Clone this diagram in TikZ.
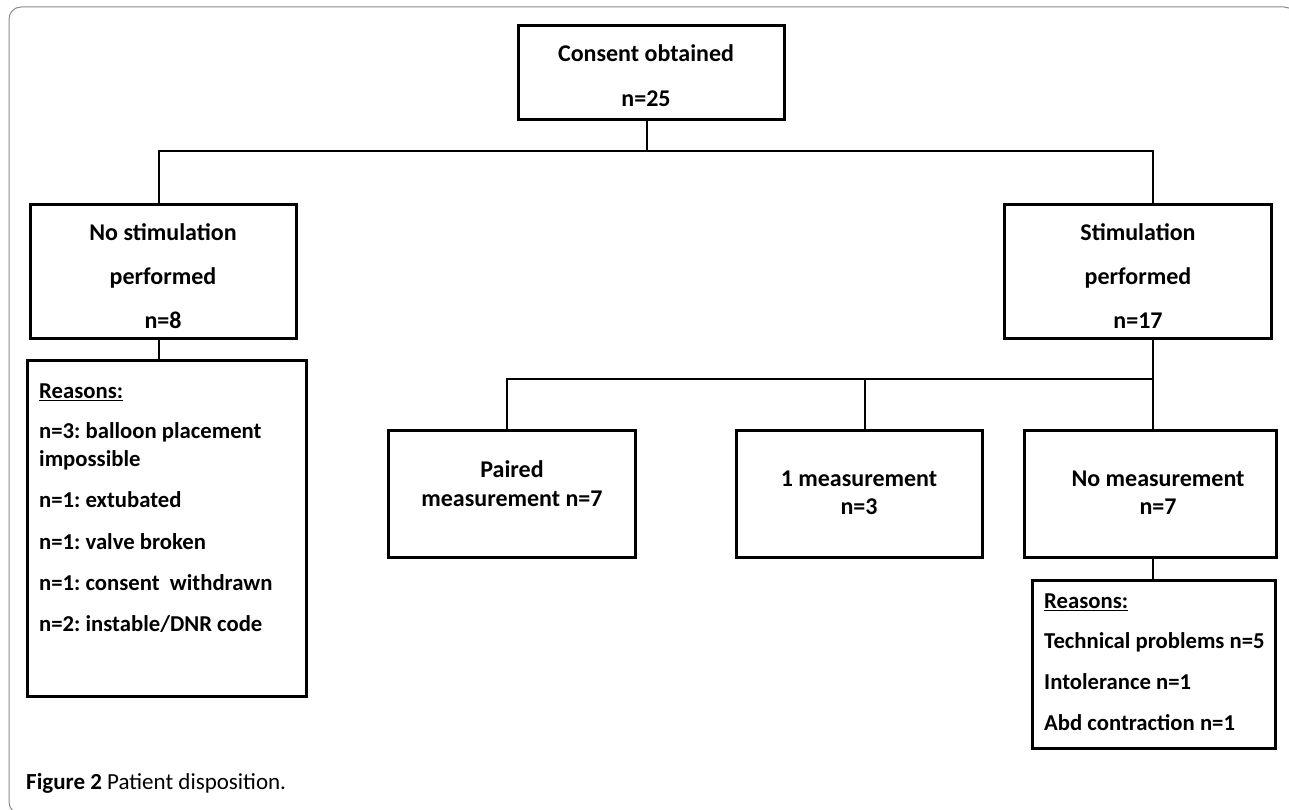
\documentclass[tikz,border=0pt]{standalone}
\usepackage{fontspec}
\setmainfont{Carlito}
\frenchspacing
\tikzset{box/.style={draw, rectangle, line width=3.4pt, inner sep=0pt},
  boxtext/.style={align=center, inner sep=0pt, font=\fontsize{24}{#1}\selectfont\bfseries},
  reasontext/.style={align=left, anchor=north west, inner sep=0pt, font=\fontsize{22.7}{28}\selectfont\bfseries},
  link/.style={line width=2.8pt}}
\begin{document}
\begin{tikzpicture}[x=1pt,y=-1pt]
   \useasboundingbox (0,0) rectangle (1289,810);
   \draw[black!45, line width=1pt, rounded corners=12pt] (9,7) rectangle (1296,814);
   % boxes
   \node[box, minimum width=266pt, minimum height=94pt] (consent) at (651.5,72.5) {};
   \node[box, minimum width=266pt, minimum height=134pt] (nostim) at (163.5,271.5) {};
   \node[box, minimum width=267pt, minimum height=134pt] (stim) at (1138,271.5) {};
   \node[box, minimum width=279pt, minimum height=336pt] (reasons1) at (167,528.5) {};
   \node[box, minimum width=247pt, minimum height=127pt] (paired) at (512,494) {};
   \node[box, minimum width=246pt, minimum height=127pt] (onemeas) at (859.5,494) {};
   \node[box, minimum width=252pt, minimum height=127pt] (nomeas) at (1150.5,494) {};
   \node[box, minimum width=243pt, minimum height=168pt] (reasons2) at (1154,664.5) {};
   % texts
   \node[boxtext=45] (consentt) at (646,75.5) {Consent obtained\\n=25};
   \node[boxtext=44] (nostimt) at (163,276) {No stimulation\\performed\\n=8};
   \node[boxtext=44] (stimt) at (1138,276) {Stimulation\\performed\\n=17};
   \node[boxtext=29] (pairedt) at (512,484) {Paired\\measurement n=7};
   \node[boxtext=28] (onemeast) at (859,493) {1 measurement\\n=3};
   \node[boxtext=28] (nomeast) at (1158,493) {No measurement\\n=7};
   \node[reasontext] (reasons1t) at (39,383.4) {\underline{Reasons:}\\[12pt]
     n=3: balloon placement\\impossible\\[13pt]
     n=1: extubated\\[14pt]
     n=1: valve broken\\[13pt]
     n=1: consent\ \ withdrawn\\[13pt]
     n=2: instable/DNR code};
   \node[reasontext] (reasons2t) at (1044,593.4) {\underline{Reasons:}\\[12pt]
     Technical problems n=5\\[13pt]
     Intolerance n=1\\[13pt]
     Abd contraction n=1};
   % connectors
   \coordinate (split1) at (647,151);
   \coordinate (split2) at (1153,379);
   \draw[link] (consent.south -| split1) -- (split1);
   \draw[link] ([xshift=-4.5pt]nostim.north) |- (split1) -| (stim.north -| split2);
   \draw[link] (stim.south -| split2) -- (split2);
   \draw[link] ([xshift=-5pt]paired.north) |- (split2);
   \draw[link] ([xshift=5.5pt]onemeas.north) -- ([xshift=5.5pt]onemeas.north |- split2);
   \draw[link] (nomeas.north -| split2) -- (split2);
   \draw[link] ([xshift=-4.5pt]nostim.south) -- ([xshift=-4.5pt]nostim.south |- reasons1.north);
   \draw[link] (nomeas.south -| split2) -- (reasons2.north -| split2);
   \node[anchor=base west, inner sep=0pt, font=\fontsize{23}{26}\selectfont] (caption) at (26,789) {\textbf{Figure 2} Patient disposition.};
\end{tikzpicture}
\end{document}
